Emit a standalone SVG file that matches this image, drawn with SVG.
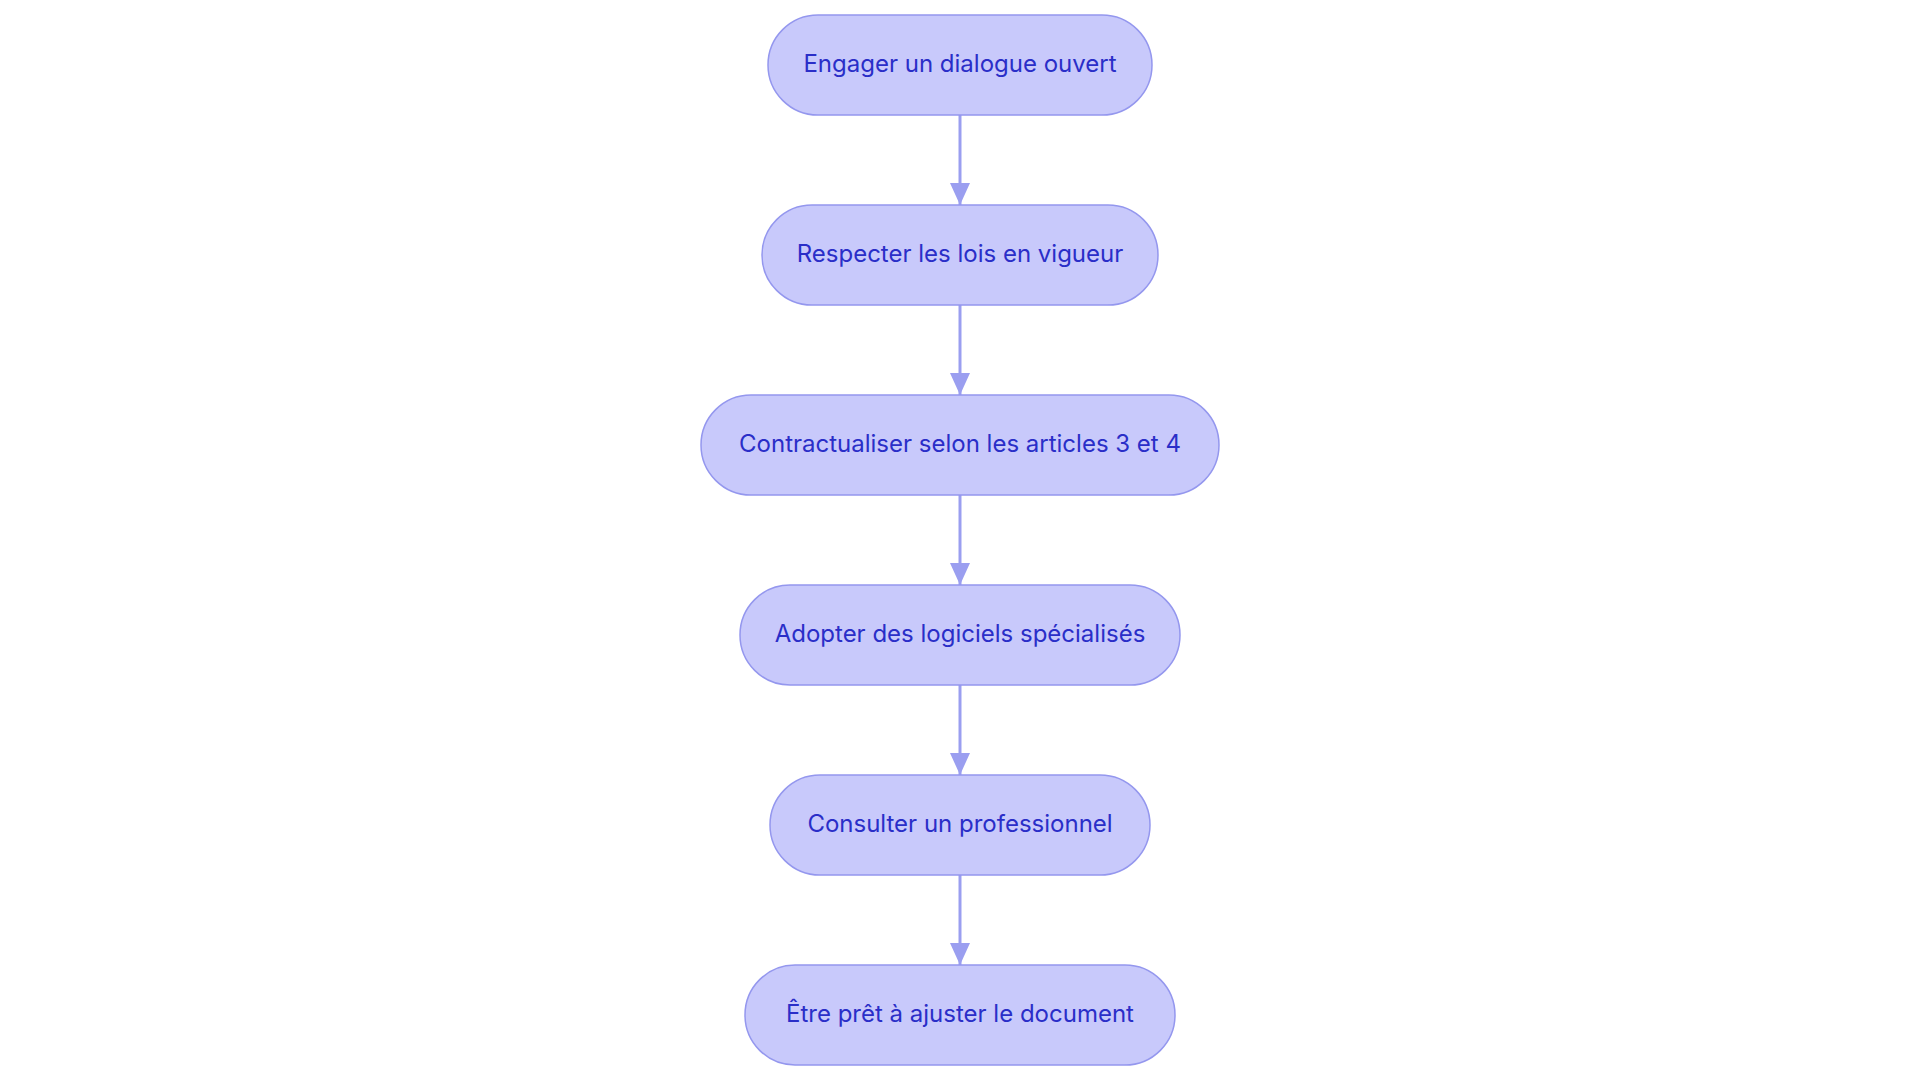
<svg xmlns="http://www.w3.org/2000/svg" width="1920" height="1083" viewBox="0 0 1920 1083">
<style>
.node rect{fill:#c8c9fb;stroke:#9497ee;stroke-width:1.5}
.node text{font-family:Inter,"Noto Sans",sans-serif;font-size:24px;fill:#2a2ec8;text-anchor:middle;dominant-baseline:central}
.edge{stroke:#9a9ef0;stroke-width:3;fill:none}
</style>
<defs>
<marker id="arr" viewBox="0 0 22 20" refX="22" refY="10" markerWidth="22" markerHeight="20" markerUnits="userSpaceOnUse" orient="auto">
<path d="M0,0 L22,10 L0,20 Z" fill="#9a9ef0"/>
</marker>
</defs>
<rect width="1920" height="1083" fill="#ffffff"/>
<g id="connectors">
<line class="edge" x1="960" y1="115" x2="960" y2="205" marker-end="url(#arr)"/>
<line class="edge" x1="960" y1="305" x2="960" y2="395" marker-end="url(#arr)"/>
<line class="edge" x1="960" y1="495" x2="960" y2="585" marker-end="url(#arr)"/>
<line class="edge" x1="960" y1="685" x2="960" y2="775" marker-end="url(#arr)"/>
<line class="edge" x1="960" y1="875" x2="960" y2="965" marker-end="url(#arr)"/>
</g>
<g id="n1" class="node"><rect x="768" y="15" width="384" height="100" rx="50"/><text x="960" y="63">Engager un dialogue ouvert</text></g>
<g id="n2" class="node"><rect x="762" y="205" width="396" height="100" rx="50"/><text x="960" y="253">Respecter les lois en vigueur</text></g>
<g id="n3" class="node"><rect x="701" y="395" width="518" height="100" rx="50"/><text x="960" y="443">Contractualiser selon les articles 3 et 4</text></g>
<g id="n4" class="node"><rect x="740" y="585" width="440" height="100" rx="50"/><text x="960" y="633">Adopter des logiciels spécialisés</text></g>
<g id="n5" class="node"><rect x="770" y="775" width="380" height="100" rx="50"/><text x="960" y="823">Consulter un professionnel</text></g>
<g id="n6" class="node"><rect x="745" y="965" width="430" height="100" rx="50"/><text x="960" y="1013">Être prêt à ajuster le document</text></g>
</svg>
